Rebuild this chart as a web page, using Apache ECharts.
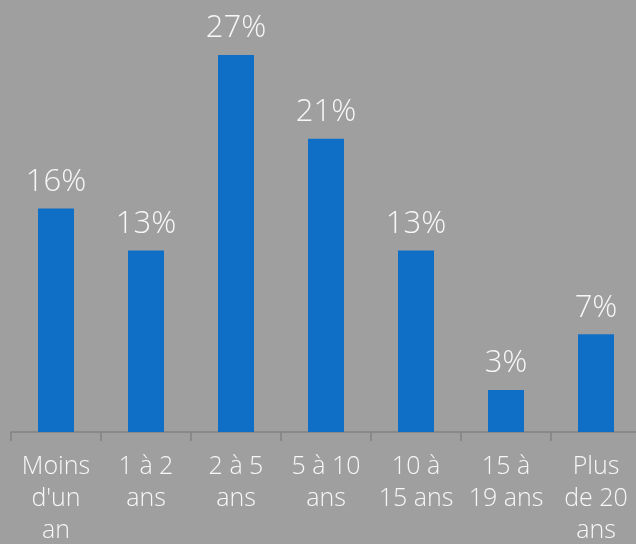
<!DOCTYPE html>
<html>
<head>
<meta charset="utf-8">
<script src="https://cdn.jsdelivr.net/npm/echarts@6/dist/echarts.min.js"></script>
<style>
  html, body { margin: 0; padding: 0; background: #9f9f9f; }
  #chart { width: 636px; height: 544px; }
</style>
</head>
<body>
<div id="chart"></div>
<script>
// Ancienneté : part des répondants par tranche (%)
const categories = ['Moins\nd\'un\nan', '1 à 2\nans', '2 à 5\nans', '5 à 10\nans', '10 à\n15 ans', '15 à\n19 ans', 'Plus\nde 20\nans'];
const values = [16, 13, 27, 21, 13, 3, 7];

const textColor = '#f7f7f7';
const fontFamily = '"Open Sans", sans-serif';

const chart = echarts.init(document.getElementById('chart'), null, { renderer: 'canvas' });
chart.setOption({
  backgroundColor: '#9f9f9f',
  animation: false,
  grid: {
    left: 11, top: 13, width: 630, height: 419,
    containLabel: false,
    outerBoundsMode: 'none'
  },
  xAxis: {
    type: 'category',
    data: categories,
    axisLine: { show: true, lineStyle: { color: '#828282', width: 1.5 } },
    axisTick: { show: true, length: 9, alignWithLabel: false, lineStyle: { color: '#828282', width: 1.5 } },
    axisLabel: {
      color: textColor,
      fontFamily: fontFamily,
      fontSize: 25,
      fontWeight: 300,
      lineHeight: 32,
      margin: 19,
      interval: 0
    }
  },
  yAxis: {
    type: 'value',
    min: 0,
    max: 30,
    show: false,
    splitLine: { show: false }
  },
  series: [{
    type: 'bar',
    data: values,
    barWidth: 36,
    itemStyle: { color: '#0f6fc6' },
    label: {
      show: true,
      position: 'top',
      distance: 11,
      formatter: '{c}%',
      color: textColor,
      fontFamily: fontFamily,
      fontSize: 31,
      fontWeight: 300
    }
  }]
});
</script>
</body>
</html>
